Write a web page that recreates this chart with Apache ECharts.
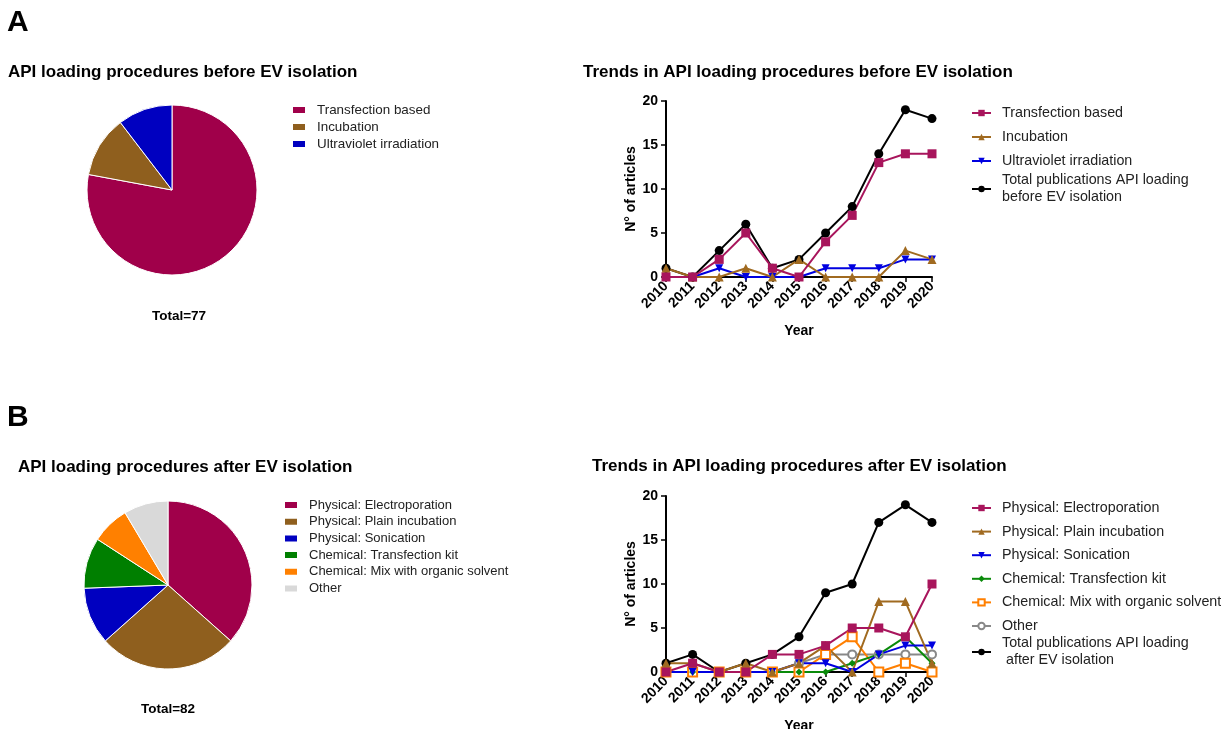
<!DOCTYPE html>
<html>
<head>
<meta charset="utf-8">
<script src="https://cdn.jsdelivr.net/npm/echarts@6/dist/echarts.min.js"></script>
<style>
  html, body { margin: 0; padding: 0; background: #fff; }
  #pies { position: absolute; left: 0; top: 0; width: 560px; height: 729px; }
  #lines { position: absolute; left: 560px; top: 0; width: 661px; height: 729px; }
</style>
</head>
<body>
<div id="pies"></div>
<div id="lines"></div>
<script>
// categories / data
var years = ["2010", "2011", "2012", "2013", "2014", "2015", "2016", "2017", "2018", "2019", "2020"];

// panel A: before EV isolation
var beforeNames = ["Transfection based", "Incubation", "Ultraviolet irradiation"];
var beforePie = [60, 9, 8];
var beforeTransfection = [0, 0, 2, 5, 1, 0, 4, 7, 13, 14, 14];
var beforeIncubation = [1, 0, 0, 1, 0, 2, 0, 0, 0, 3, 2];
var beforeUV = [0, 0, 1, 0, 0, 0, 1, 1, 1, 2, 2];
var beforeTotal = [1, 0, 3, 6, 1, 2, 5, 8, 14, 19, 18];

// panel B: after EV isolation
var afterNames = ["Physical: Electroporation", "Physical: Plain incubation", "Physical: Sonication",
  "Chemical: Transfection kit", "Chemical: Mix with organic solvent", "Other"];
var afterPie = [30, 22, 9, 8, 6, 7];
var afterElectro = [0, 1, 0, 0, 2, 2, 3, 5, 5, 4, 10];
var afterPlain = [1, 1, 0, 1, 0, 1, 3, 0, 8, 8, 1];
var afterSonic = [0, 0, 0, 0, 0, 1, 1, 0, 2, 3, 3];
var afterKit = [0, 0, 0, 0, 0, 0, 0, 1, 2, 4, 1];
var afterSolvent = [0, 0, 0, 0, 0, 0, 2, 4, 0, 1, 0];
var afterOther = [0, 0, 0, 0, 0, 1, 2, 2, 2, 2, 2];
var afterTotal = [1, 2, 0, 1, 2, 4, 9, 10, 17, 19, 17];

var yTicks = [0, 5, 10, 15, 20];

var totalBeforeName = "Total publications API loading\nbefore EV isolation";
var totalAfterName = "Total publications API loading\n after EV isolation";

var FONT = "Liberation Sans, Arial, sans-serif";
var pieColorsA = ["#a0004a", "#8f5f1e", "#0000c0"];
var pieColorsB = ["#a0004a", "#8f5f1e", "#0000c0", "#007f00", "#ff8000", "#d9d9d9"];

function pieData(names, values) {
  return names.map(function(n, i) { return { name: n, value: values[i] }; });
}

var pieChart = echarts.init(document.getElementById("pies"));
pieChart.setOption({
  animation: false,
  textStyle: { fontFamily: FONT },
  title: [
    { text: "A", left: 7, top: 8, padding: 0, textStyle: { fontSize: 30, fontWeight: "bold", color: "#000", fontFamily: FONT } },
    { text: "API loading procedures before EV isolation", left: 8, top: 64, padding: 0,
      textStyle: { fontSize: 17, fontWeight: "bold", color: "#000", fontFamily: FONT } },
    { text: "B", left: 7, top: 403, padding: 0, textStyle: { fontSize: 30, fontWeight: "bold", color: "#000", fontFamily: FONT } },
    { text: "API loading procedures after EV isolation", left: 18, top: 459, padding: 0,
      textStyle: { fontSize: 17, fontWeight: "bold", color: "#000", fontFamily: FONT } }
  ],
  legend: [
    {
      data: beforeNames, orient: "vertical", left: 291, top: 103, padding: 0,
      icon: "rect", itemWidth: 14, itemHeight: 8, itemGap: 3,
      textStyle: { fontSize: 13.4, lineHeight: 14, color: "#222", padding: [0, 0, 0, 6], fontFamily: FONT }
    },
    {
      data: afterNames, orient: "vertical", left: 283, top: 498, padding: 0,
      icon: "rect", itemWidth: 14, itemHeight: 8, itemGap: 2.7,
      textStyle: { fontSize: 13, lineHeight: 14, color: "#222", padding: [0, 0, 0, 6], fontFamily: FONT }
    }
  ],
  graphic: [
    { type: "text", x: 179, y: 316, style: { text: "Total=77", align: "center", verticalAlign: "middle", font: "bold 13.5px " + FONT, fill: "#000" } },
    { type: "text", x: 168, y: 709, style: { text: "Total=82", align: "center", verticalAlign: "middle", font: "bold 13.5px " + FONT, fill: "#000" } }
  ],
  series: [
    {
      type: "pie", center: [172, 190], radius: 85, startAngle: 90, clockwise: true,
      label: { show: false }, labelLine: { show: false }, silent: true,
      color: pieColorsA, itemStyle: { borderColor: "#fff", borderWidth: 1 },
      data: pieData(beforeNames, beforePie)
    },
    {
      type: "pie", center: [168, 585], radius: 84, startAngle: 90, clockwise: true,
      label: { show: false }, labelLine: { show: false }, silent: true,
      color: pieColorsB, itemStyle: { borderColor: "#fff", borderWidth: 1 },
      data: pieData(afterNames, afterPie)
    }
  ]
});

// line charts
function lineSeries(name, data, color, symbol, size, gridIdx, extra) {
  var s = {
    name: name, type: "line", data: data,
    xAxisIndex: gridIdx, yAxisIndex: gridIdx,
    symbol: symbol, symbolSize: size,
    lineStyle: { color: color, width: 2 },
    itemStyle: { color: color },
    emphasis: { disabled: true }
  };
  if (extra) { for (var k in extra) s[k] = extra[k]; }
  return s;
}

function xAxisCfg(gridIdx, gap) {
  return {
    type: "category", gridIndex: gridIdx, data: years, boundaryGap: false,
    name: "Year", nameLocation: "middle", nameGap: gap,
    nameTextStyle: { fontSize: 14, fontWeight: "bold", color: "#000", fontFamily: FONT },
    axisLine: { lineStyle: { color: "#000", width: 2 } },
    axisTick: { show: true, length: 5, lineStyle: { color: "#000", width: 1.5 }, alignWithLabel: true },
    axisLabel: { rotate: 45, margin: 7, fontSize: 14, fontWeight: "bold", color: "#000", fontFamily: FONT, interval: 0 },
    splitLine: { show: false }
  };
}

function yAxisCfg(gridIdx) {
  return {
    type: "value", gridIndex: gridIdx, min: yTicks[0], max: yTicks[yTicks.length - 1], interval: 5,
    name: "N\u00b0 of articles", nameLocation: "middle", nameGap: 27,
    nameTextStyle: { fontSize: 14, fontWeight: "bold", color: "#000", fontFamily: FONT },
    axisLine: { show: true, lineStyle: { color: "#000", width: 2 } },
    axisTick: { show: true, length: 5, lineStyle: { color: "#000", width: 1.5 } },
    axisLabel: { margin: 8, fontSize: 14, fontWeight: "bold", color: "#000", fontFamily: FONT },
    splitLine: { show: false }
  };
}

var legendText = { fontSize: 14.3, color: "#222", padding: [0, 0, 0, 6], fontFamily: FONT };

var lineChart = echarts.init(document.getElementById("lines"));
lineChart.setOption({
  animation: false,
  textStyle: { fontFamily: FONT },
  title: [
    { text: "Trends in API loading procedures before EV isolation", left: 23, top: 64, padding: 0,
      textStyle: { fontSize: 17, fontWeight: "bold", color: "#000", fontFamily: FONT } },
    { text: "Trends in API loading procedures after EV isolation", left: 32, top: 458, padding: 0,
      textStyle: { fontSize: 17, fontWeight: "bold", color: "#000", fontFamily: FONT } }
  ],
  grid: [
    { left: 106, top: 101, width: 266, height: 176, outerBoundsMode: "none", containLabel: false },
    { left: 106, top: 496, width: 266, height: 176, outerBoundsMode: "none", containLabel: false }
  ],
  xAxis: [xAxisCfg(0, 47), xAxisCfg(1, 47)],
  yAxis: [yAxisCfg(0), yAxisCfg(1)],
  legend: [
    { data: beforeNames, orient: "vertical", left: 411, top: 106, padding: 0, itemWidth: 19, itemHeight: 8, itemGap: 10,
      textStyle: Object.assign({ lineHeight: 14 }, legendText) },
    { data: [totalBeforeName], orient: "vertical", left: 411, top: 172, padding: 0, itemWidth: 19, itemHeight: 8,
      textStyle: Object.assign({ lineHeight: 17 }, legendText) },
    { data: afterNames, orient: "vertical", left: 411, top: 501, padding: 0, itemWidth: 19, itemHeight: 8, itemGap: 9.6,
      textStyle: Object.assign({ lineHeight: 14 }, legendText) },
    { data: [totalAfterName], orient: "vertical", left: 411, top: 635, padding: 0, itemWidth: 19, itemHeight: 8,
      textStyle: Object.assign({ lineHeight: 17 }, legendText) }
  ],
  series: [
    lineSeries(totalBeforeName, beforeTotal, "#000000", "circle", 9, 0),
    lineSeries("Ultraviolet irradiation", beforeUV, "#0000e0", "triangle", 8, 0, { symbolRotate: 180 }),
    lineSeries("Incubation", beforeIncubation, "#a06a20", "triangle", 9, 0),
    lineSeries("Transfection based", beforeTransfection, "#a8155c", "rect", 9, 0),

    lineSeries(totalAfterName, afterTotal, "#000000", "circle", 9, 1),
    lineSeries("Other", afterOther, "#888888", "emptyCircle", 8, 1),
    lineSeries("Chemical: Mix with organic solvent", afterSolvent, "#ff7f00", "emptyRect", 9, 1),
    lineSeries("Chemical: Transfection kit", afterKit, "#0a8a0a", "diamond", 7, 1),
    lineSeries("Physical: Sonication", afterSonic, "#0000e0", "triangle", 8, 1, { symbolRotate: 180 }),
    lineSeries("Physical: Plain incubation", afterPlain, "#a06a20", "triangle", 9, 1),
    lineSeries("Physical: Electroporation", afterElectro, "#a8155c", "rect", 9, 1)
  ]
});
</script>
</body>
</html>
